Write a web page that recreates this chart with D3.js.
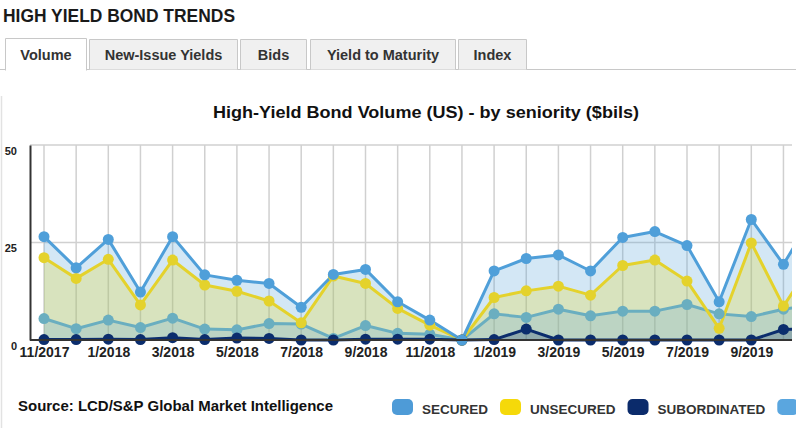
<!DOCTYPE html>
<html>
<head>
<meta charset="utf-8">
<script src="https://cdn.jsdelivr.net/npm/d3@7/dist/d3.min.js"></script>
<style>
  html, body { margin: 0; padding: 0; background: #fff; overflow: hidden; }
  svg { display: block; font-family: "Liberation Sans", Arial, Helvetica, sans-serif; }
</style>
</head>
<body>
<svg id="chart" width="796" height="428"></svg>
<script>
// ---------------- DATA ----------------
const months = ["11/2017","12/2017","1/2018","2/2018","3/2018","4/2018","5/2018","6/2018","7/2018","8/2018","9/2018","10/2018",
                "11/2018","12/2018","1/2019","2/2019","3/2019","4/2019","5/2019","6/2019","7/2019","8/2019","9/2019","10/2019","11/2019"];
const totalVol        = [26.5,18.5,25.8,12.3,26.5,16.7,15.3,14.5,8.4,16.8,18.1,9.8,5.1,0,17.7,20.9,21.8,17.7,26.3,27.8,24.2,9.8,30.9,19.4,33];
const unsecuredVol    = [21.1,15.8,20.7,9.0,20.5,14.1,12.5,10.0,4.4,16.4,14.5,8.1,3.8,0,10.9,12.6,13.8,11.5,19.1,20.5,15.1,3.0,24.9,8.7,21];
const securedVol      = [5.5,2.9,5.1,3.2,5.6,2.8,2.6,4.2,4.1,0.4,3.7,1.7,1.5,0,6.7,5.8,7.9,6.2,7.4,7.4,9.1,6.7,6.0,7.9,9];
const subordinatedVol = [0.1,0.1,0.2,0.1,0.6,0.1,0.5,0.4,0,0,0.2,0.2,0.2,0,0.1,2.8,0,0,0,0,0,0,0,2.7,3];
const yTicks = [0, 25, 50];
const legendNames = ["SECURED", "UNSECURED", "SUBORDINATED", "TOTAL"];
const tabNames = ["Volume", "New-Issue Yields", "Bids", "Yield to Maturity", "Index"];

// ---------------- STYLE ----------------
const lineColor = { total: "#4f9fd9", unsecured: "#e4d22c", secured: "#6aaec0", subordinated: "#0b2d6d" };
const fillColor = { total: "#4f9fd9", unsecured: "#e8d61a", secured: "#4e9bd7", subordinated: "#0b2d6d" };
const fillOpacity = { total: 0.25, unsecured: 0.25, secured: 0.2, subordinated: 0.25 };
const legendColor = ["#4e9bd7", "#f5d90a", "#0b2b6b", "#5aa6df"];

const svg = d3.select("#chart");

// ---------------- HEADER ----------------
svg.append("text").attr("x", 3).attr("y", 22)
  .attr("font-size", 17.5).attr("font-weight", "bold").attr("fill", "#1a1a1a")
  .attr("textLength", 232).attr("lengthAdjust", "spacingAndGlyphs")
  .text("HIGH YIELD BOND TRENDS");

// Tabs
const tabExtents = [[5,86],[89,237],[240,306],[310,455],[458,526]];
const tabBottom = 69.5;
svg.append("line").attr("x1", 0).attr("x2", 796).attr("y1", tabBottom).attr("y2", tabBottom)
  .attr("stroke", "#c8c8c8").attr("stroke-width", 1);
const tabs = svg.append("g");
tabNames.forEach((name, i) => {
  const [x0, x1] = tabExtents[i];
  const active = i === 0;
  const top = active ? 38.5 : 39.5;
  tabs.append("rect").attr("x", x0 + 0.5).attr("y", top).attr("width", x1 - x0).attr("height", tabBottom - top + (active ? 1 : 0))
    .attr("fill", active ? "#ffffff" : "#f0f0f0").attr("stroke", "none");
  tabs.append("path")
    .attr("d", `M${x0 + 0.5},${tabBottom + (active ? 1 : 0)} V${top} H${x1 + 0.5} V${tabBottom + (active ? 1 : 0)}`)
    .attr("fill", "none").attr("stroke", "#c8c8c8").attr("stroke-width", 1);
  tabs.append("text").attr("x", (x0 + x1) / 2 + 0.5).attr("y", 60)
    .attr("text-anchor", "middle").attr("font-size", 14.5).attr("font-weight", "bold")
    .attr("fill", "#333").text(name);
});

// panel left border
svg.append("line").attr("x1", 1.5).attr("x2", 1.5).attr("y1", 96).attr("y2", 428)
  .attr("stroke", "#e2e2e2").attr("stroke-width", 1.5);

// ---------------- CHART ----------------
svg.append("text").attr("x", 426).attr("y", 118).attr("text-anchor", "middle")
  .attr("font-size", 17).attr("font-weight", "bold").attr("fill", "#111")
  .attr("textLength", 426).attr("lengthAdjust", "spacingAndGlyphs")
  .text("High-Yield Bond Volume (US) - by seniority ($bils)");

const plotLeft = 30, plotRight = 792, plotTop = 145, plotBottom = 340;
const x = d3.scalePoint().domain(months).range([44, 44 + 32.15 * (months.length - 1)]);
const y = d3.scaleLinear().domain([0, 50]).range([plotBottom, plotTop]);

svg.append("defs").append("clipPath").attr("id", "plotClip")
  .append("rect").attr("x", 0).attr("y", 0).attr("width", plotRight).attr("height", 428);

// gridlines
const grid = svg.append("g").attr("clip-path", "url(#plotClip)");
grid.selectAll("line.v").data(months).join("line").attr("class", "v")
  .attr("x1", d => x(d)).attr("x2", d => x(d)).attr("y1", plotTop).attr("y2", plotBottom)
  .attr("stroke", "#d0d0d0").attr("stroke-width", 1.5);
grid.selectAll("line.h").data(yTicks.filter(t => t > 0)).join("line").attr("class", "h")
  .attr("x1", plotLeft).attr("x2", plotRight).attr("y1", d => y(d)).attr("y2", d => y(d))
  .attr("stroke", "#d0d0d0").attr("stroke-width", 1.5);

// y axis
const yAxis = svg.append("g").attr("transform", `translate(${plotLeft},0)`)
  .call(d3.axisLeft(y).tickValues(yTicks).tickSize(0).tickPadding(13));
yAxis.select(".domain").attr("stroke", "#333").attr("stroke-width", 2);
yAxis.selectAll("text").attr("font-size", 11).attr("font-weight", "bold").attr("fill", "#222")
  .attr("font-family", "Liberation Sans, Arial, sans-serif").attr("dy", "0.85em").attr("dx", "0");

// series
const series = [
  { key: "total", values: totalVol },
  { key: "unsecured", values: unsecuredVol },
  { key: "secured", values: securedVol },
  { key: "subordinated", values: subordinatedVol }
];
const plot = svg.append("g").attr("clip-path", "url(#plotClip)");
const area = d3.area().x((d, i) => x(months[i])).y0(y(0)).y1(d => y(d));
const line = d3.line().x((d, i) => x(months[i])).y(d => y(d));

series.forEach(s => {
  plot.append("path").datum(s.values).attr("d", area)
    .attr("fill", fillColor[s.key]).attr("fill-opacity", fillOpacity[s.key]);
});

// x axis line
svg.append("line").attr("x1", plotLeft).attr("x2", plotRight).attr("y1", plotBottom).attr("y2", plotBottom)
  .attr("stroke", "#333").attr("stroke-width", 2);

const drawOrder = ["secured", "unsecured", "subordinated", "total"];
drawOrder.forEach(k => {
  const s = series.find(v => v.key === k);
  plot.append("path").datum(s.values).attr("d", line)
    .attr("fill", "none").attr("stroke", lineColor[k]).attr("stroke-width", 3).attr("stroke-linejoin", "round");
});
drawOrder.forEach(k => {
  const s = series.find(v => v.key === k);
  plot.append("g").selectAll("circle").data(s.values).join("circle")
    .attr("cx", (d, i) => x(months[i])).attr("cy", d => y(d)).attr("r", 5.5)
    .attr("fill", lineColor[k]);
});

// x axis labels (only those whose tick lies inside the visible plot)
const xAxis = svg.append("g").attr("transform", `translate(0,${plotBottom})`)
  .call(d3.axisBottom(x).tickValues(months.filter((m, i) => i % 2 === 0 && x(m) < plotRight)).tickSize(0).tickPadding(7));
xAxis.select(".domain").remove();
xAxis.selectAll("text").attr("font-size", 14).attr("font-weight", "bold").attr("fill", "#222")
  .attr("font-family", "Liberation Sans, Arial, sans-serif");

// ---------------- FOOTER ----------------
svg.append("text").attr("x", 18).attr("y", 411)
  .attr("font-size", 14).attr("font-weight", "bold").attr("fill", "#111")
  .attr("textLength", 315).attr("lengthAdjust", "spacingAndGlyphs")
  .text("Source: LCD/S&P Global Market Intelligence");

const legend = svg.append("g");
let lx = 392;
legendNames.forEach((name, i) => {
  legend.append("rect").attr("x", lx).attr("y", 399).attr("width", 21).attr("height", 16)
    .attr("rx", 5).attr("fill", legendColor[i]);
  const t = legend.append("text").attr("x", lx + 30).attr("y", 414)
    .attr("font-size", 13.5).attr("font-weight", "bold").attr("fill", "#333").text(name);
  lx += 30 + t.node().getComputedTextLength() + 12;
});
</script>
</body>
</html>
